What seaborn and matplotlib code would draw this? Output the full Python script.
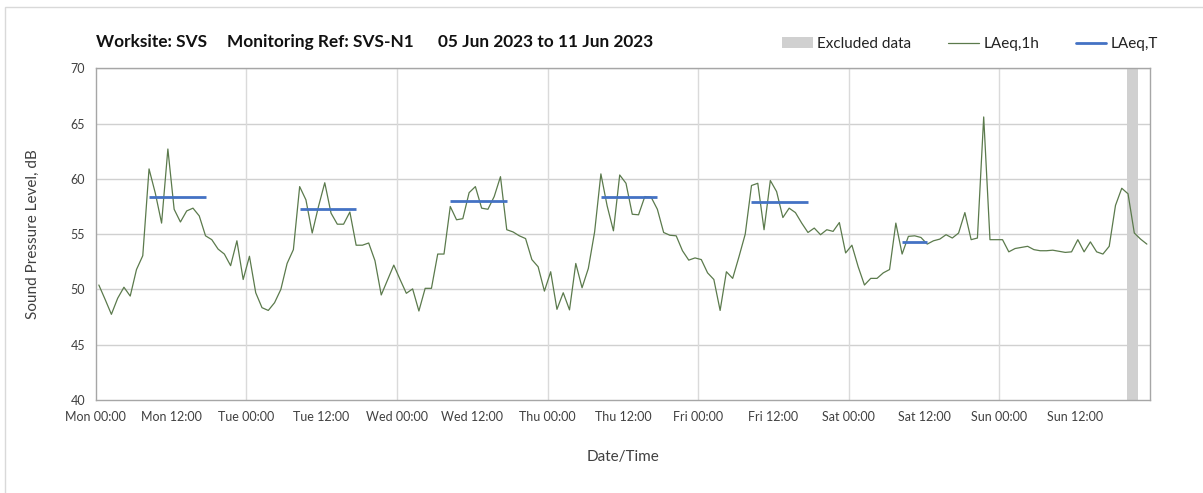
import numpy as np
import pandas as pd
import matplotlib
matplotlib.use("Agg")
import matplotlib.pyplot as plt
import seaborn as sns
from matplotlib.patches import Patch, Rectangle
from matplotlib.lines import Line2D

# ---------------------------
# Data
# ---------------------------
# hourly LAeq,1h values, one per hour starting Mon 00:00 (plotted at mid-hour)
laeq_1h = [
    50.4, 49.1, 47.75, 49.2, 50.2, 49.4, 51.8, 53.05, 60.9, 58.7, 56.0, 62.7,
    57.25, 56.1, 57.1, 57.35, 56.65, 54.85, 54.5, 53.65, 53.2, 52.15, 54.4, 50.9,
    53.0, 49.7, 48.35, 48.1, 48.8, 50.0, 52.35, 53.6, 59.3, 58.1, 55.1, 57.5,
    59.65, 56.9, 55.9, 55.9, 57.0, 54.0, 54.0, 54.2, 52.6, 49.5, 50.85, 52.2,
    50.9, 49.65, 50.05, 48.05, 50.1, 50.1, 53.2, 53.2, 57.5, 56.3, 56.4, 58.75,
    59.3, 57.35, 57.25, 58.4, 60.2, 55.4, 55.2, 54.85, 54.6, 52.7, 52.05, 49.85,
    51.6, 48.2, 49.7, 48.15, 52.35, 50.15, 51.9, 55.2, 60.45, 57.55, 55.3, 60.35,
    59.6, 56.8, 56.75, 58.4, 58.35, 57.25, 55.15, 54.9, 54.85, 53.5, 52.65, 52.85,
    52.7, 51.5, 50.9, 48.1, 51.6, 51.0, 52.95, 55.0, 59.4, 59.6, 55.4, 59.85,
    58.85, 56.5, 57.35, 56.95, 56.0, 55.15, 55.55, 54.95, 55.4, 55.25, 56.05, 53.3,
    54.0, 52.05, 50.4, 51.0, 51.0, 51.5, 51.8, 56.0, 53.2, 54.8, 54.85, 54.7,
    54.1, 54.4, 54.55, 54.95, 54.65, 55.1, 56.95, 54.5, 54.65, 65.6, 54.5, 54.5,
    54.5, 53.4, 53.7, 53.8, 53.9, 53.6, 53.5, 53.5, 53.55, 53.45, 53.35, 53.4,
    54.5, 53.4, 54.3, 53.4, 53.2, 53.9, 57.6, 59.15, 58.65, 55.1, 54.55, 54.1,
]

# LAeq,T daytime periods (hours from Mon 00:00)
period_start = [8.5, 32.5, 56.5, 80.5, 104.5, 128.5]
period_end = [17.5, 41.5, 65.5, 89.5, 113.5, 132.5]
period_level = [58.4, 57.3, 58.0, 58.35, 57.9, 54.3]

# excluded data window
excluded_start = 164.3
excluded_end = 166.1

day_names = ["Mon", "Tue", "Wed", "Thu", "Fri", "Sat", "Sun"]
tick_labels = [f"{d} {h}" for d in day_names for h in ("00:00", "12:00")] + [""]

title_parts = ["Worksite: SVS", "Monitoring Ref: SVS-N1", "05 Jun 2023 to 11 Jun 2023"]
title_x = [96, 227, 438]

df = pd.DataFrame({"hour": np.arange(len(laeq_1h)) + 0.5, "LAeq": laeq_1h})

# ---------------------------
# Style
# ---------------------------
sns.set_style("white")
plt.rcParams["font.family"] = ["Lato", "DejaVu Sans"]

W, H = 1203, 493
fig = plt.figure(figsize=(W / 100, H / 100), dpi=100)
ax = fig.add_axes([95.7 / W, 93 / H, (1150 - 95.7) / W, (400 - 68.3) / H])

# outer chart frame
fig.patches.append(Rectangle((5 / W, -0.01), 1.1, (H - 7) / H + 0.01,
                             transform=fig.transFigure, fill=False,
                             edgecolor="#d9d9d9", linewidth=1.0))

green = "#5b7a4c"
blue = "#4472c4"
grey_band = "#d0d0d0"
text_col = "#404040"

ax.axvspan(excluded_start, excluded_end, color=grey_band, lw=0, zorder=1)
sns.lineplot(data=df, x="hour", y="LAeq", color=green, linewidth=0.9, ax=ax, zorder=3)
ax.hlines(period_level, period_start, period_end, color=blue, linewidth=2.0, zorder=4)

ax.set_xlim(0, 168)
ax.set_ylim(40, 70)
ax.set_xticks(np.arange(0, 169, 12))
ax.set_xticklabels(tick_labels)
ax.set_yticks(np.arange(40, 71, 5))

# gridlines: horizontal every 5 dB, vertical only at midnight
for y in range(45, 71, 5):
    ax.axhline(y, color="#d0d0d0", linewidth=1.0, zorder=0)
for x in range(24, 168, 24):
    ax.axvline(x, color="#dadada", linewidth=1.0, zorder=0)

for s in ax.spines.values():
    s.set_color("#a6a6a6")
    s.set_linewidth(1.0)
ax.tick_params(axis="both", which="both", direction="out", length=4,
               color="#a6a6a6", labelsize=9, labelcolor=text_col)
ax.tick_params(axis="x", pad=4)

ax.set_xlabel("Date/Time", fontsize=11, color=text_col, labelpad=19)
ax.set_ylabel("Sound Pressure Level, dB", fontsize=11, color=text_col, labelpad=22)

for part, px in zip(title_parts, title_x):
    fig.text(px / W, 1 - 42 / H, part, fontsize=12.4, fontweight="bold",
             color="#111111", va="center", ha="left")

handles = [
    Patch(facecolor=grey_band, edgecolor="none", label="Excluded data"),
    Line2D([], [], color=green, linewidth=0.9, label="LAeq,1h"),
    Line2D([], [], color=blue, linewidth=2.0, label="LAeq,T"),
]
leg = fig.legend(handles=handles, loc="center right", ncol=3, frameon=False,
                 bbox_to_anchor=(1172 / W, 1 - 44 / H), fontsize=11,
                 handlelength=2.0, handletextpad=0.3, columnspacing=2.4)
for t in leg.get_texts():
    t.set_color("#222222")

fig.savefig("out.png", dpi=100)
